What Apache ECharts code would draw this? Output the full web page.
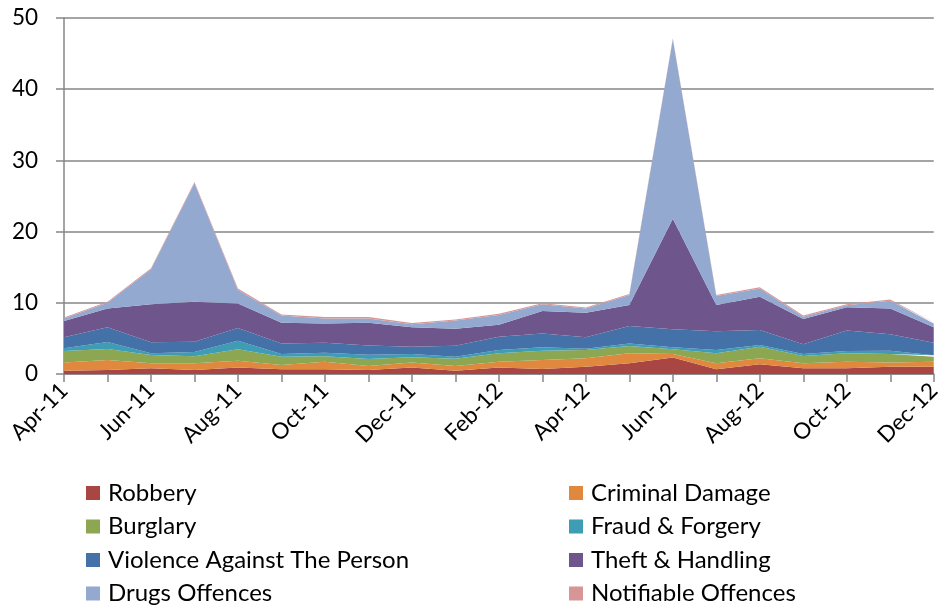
<!DOCTYPE html>
<html>
<head>
<meta charset="utf-8">
<script src="https://cdn.jsdelivr.net/npm/echarts@6/dist/echarts.min.js"></script>
<style>html,body{margin:0;padding:0;background:#fff}#c{width:944px;height:608px}</style>
</head>
<body>
<div id="c"></div>
<script>
var months = ['Apr-11','May-11','Jun-11','Jul-11','Aug-11','Sep-11','Oct-11','Nov-11','Dec-11','Jan-12','Feb-12','Mar-12','Apr-12','May-12','Jun-12','Jul-12','Aug-12','Sep-12','Oct-12','Nov-12','Dec-12'];
var robbery       = [0.47,0.56,0.80,0.56,0.93,0.65,0.65,0.56,0.93,0.47,0.93,0.70,1.03,1.50,2.30,0.65,1.36,0.80,0.80,1.03,1.03];
var criminalDamage= [1.13,1.41,0.70,0.94,0.94,0.61,1.08,0.56,0.67,0.65,0.80,1.27,1.17,1.40,0.50,0.85,0.84,0.70,0.93,0.57,0.70];
var burglary      = [1.63,1.53,1.17,1.00,1.59,1.17,0.77,0.98,0.74,1.03,1.17,1.31,1.17,1.03,0.66,1.40,1.64,1.03,1.17,1.20,0.70];
var fraud         = [0.37,1.00,0.23,0.60,1.22,0.37,0.50,0.60,0.46,0.28,0.47,0.47,0.19,0.37,0.29,0.47,0.23,0.27,0.33,0.48,0.20];
var violence      = [1.55,2.05,1.55,1.44,1.78,1.50,1.40,1.30,1.04,1.55,1.87,1.95,1.59,2.44,2.55,2.63,2.11,1.37,2.87,2.29,1.77];
var theft         = [2.29,2.65,5.35,5.61,3.44,2.90,2.70,3.20,2.71,2.39,1.66,3.15,3.45,2.96,15.5,3.70,4.68,3.55,3.26,3.63,2.15];
var drugs         = [0.36,0.80,4.90,16.65,1.90,1.00,0.70,0.60,0.45,1.13,1.40,0.95,0.60,1.40,25.2,1.25,1.14,0.33,0.29,1.10,0.55];
var notifiable    = [0.15,0.15,0.15,0.15,0.20,0.15,0.20,0.20,0.15,0.15,0.15,0.15,0.15,0.15,0.15,0.15,0.20,0.15,0.15,0.15,0.15];
var yTicks = [0,10,20,30,40,50];

var seriesDefs = [
  ['Robbery', robbery, '#A94543'],
  ['Criminal Damage', criminalDamage, '#E1883F'],
  ['Burglary', burglary, '#8CA651'],
  ['Fraud & Forgery', fraud, '#3E9CB4'],
  ['Violence Against The Person', violence, '#4371A8'],
  ['Theft & Handling', theft, '#6E568D'],
  ['Drugs Offences', drugs, '#93A9D0'],
  ['Notifiable Offences', notifiable, '#D79695']
];

var font = 'Lato, "Open Sans", sans-serif';
var series = seriesDefs.map(function(d){
  return {
    name: d[0], type: 'line', stack: 'total', data: d[1],
    symbol: 'none', smooth: false,
    lineStyle: {width: 0, color: d[2]},
    itemStyle: {color: d[2]},
    areaStyle: {color: d[2], opacity: 1}
  };
});

var legendOrder = [
  ['Robbery', 86, 0], ['Criminal Damage', 569, 0],
  ['Burglary', 86, 1], ['Fraud & Forgery', 569, 1],
  ['Violence Against The Person', 86, 2], ['Theft & Handling', 569, 2],
  ['Drugs Offences', 86, 3], ['Notifiable Offences', 569, 3]
];
var legends = legendOrder.map(function(l){
  return {
    data: [l[0]], left: l[1], top: 481 + l[2]*33.5, padding: 0,
    icon: 'rect', itemWidth: 14, itemHeight: 14, itemGap: 0,
    selectedMode: false,
    textStyle: {fontFamily: font, fontSize: 24, color: '#000', padding: [0,0,0,3]}
  };
});

var chart = echarts.init(document.getElementById('c'));
chart.setOption({
  animation: false,
  backgroundColor: '#fff',
  legend: legends,
  grid: {left: 64, right: 4, top: 18, bottom: 234, containLabel: false},
  xAxis: {
    type: 'category', data: months, boundaryGap: false,
    axisLine: {lineStyle: {color: '#868686', width: 1.5}},
    axisTick: {show: true, interval: 0, length: 8, lineStyle: {color: '#868686', width: 1.5}},
    axisLabel: {interval: 1, rotate: 45, fontFamily: font, fontSize: 22.5, color: '#000', margin: 13},
    splitLine: {show: false}
  },
  yAxis: {
    type: 'value', min: yTicks[0], max: yTicks[yTicks.length-1], interval: 10,
    axisLine: {show: true, lineStyle: {color: '#868686', width: 1.5}},
    axisTick: {show: true, length: 8, inside: false, lineStyle: {color: '#868686', width: 1.5}},
    axisLabel: {fontFamily: font, fontSize: 22.5, color: '#000', margin: 26},
    splitLine: {lineStyle: {color: '#868686', width: 1.5}}
  },
  series: series
});
</script>
</body>
</html>
